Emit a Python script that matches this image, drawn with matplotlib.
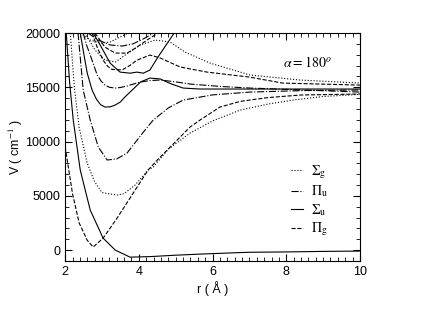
import matplotlib
matplotlib.use("Agg")
import matplotlib.pyplot as plt
from matplotlib.ticker import MultipleLocator

plt.rcParams['font.family'] = ['Liberation Sans', 'DejaVu Sans']
plt.rcParams['mathtext.fontset'] = 'stix'

# curvas: r (Angstrom), V (cm^-1)
r_su1 = [2.03, 2.12, 2.22, 2.41, 2.68, 3.03, 3.36, 3.76, 4.3, 5.0, 5.66, 6.5, 7.0, 8.0, 9.0, 10.0]
v_su1 = [20000, 15500, 11980, 7370, 3690, 1100, 0, -650, -600, -470, -370, -260, -200, -170, -120, -90]

r_pg1 = [2.0, 2.2, 2.38, 2.6, 2.76, 3.03, 3.4, 3.8, 4.25, 4.5, 5.0, 5.39, 5.66, 6.2, 6.75, 7.5, 8.4, 10.0]
v_pg1 = [9500, 5200, 2500, 900, 280, 1100, 2900, 5000, 7370, 8300, 10000, 11340, 11980, 13180, 13700, 14050, 14290, 14380]

r_sg1 = [2.14, 2.25, 2.38, 2.6, 2.8, 3.0, 3.41, 3.6, 3.9, 4.25, 4.39, 4.8, 5.39, 6.0, 6.75, 7.5, 8.18, 9.0, 10.0]
v_sg1 = [20000, 15000, 11300, 8000, 6300, 5300, 5070, 5200, 6000, 7370, 7650, 9300, 10780, 11900, 12900, 13450, 13820, 14150, 14350]

r_pu1 = [2.35, 2.49, 2.68, 2.9, 3.14, 3.4, 3.68, 4.1, 4.39, 4.8, 5.2, 6.0, 7.02, 8.5, 10.0]
v_pu1 = [20000, 14750, 11980, 9490, 8300, 8400, 8940, 10780, 11980, 13100, 13820, 14300, 14560, 14700, 14750]

r_su2 = [2.41, 2.5, 2.6, 2.73, 2.85, 2.96, 3.08, 3.22, 3.35, 3.5, 3.62, 3.82, 4.05, 4.3, 4.58, 4.85, 5.2, 5.66, 6.5, 8.0, 10.0]
v_su2 = [20000, 18200, 16300, 14750, 13900, 13400, 13180, 13200, 13350, 13650, 14100, 14750, 15500, 15850, 15770, 15350, 14930, 14840, 14840, 14840, 14840]

r_pg2 = [2.73, 2.88, 3.03, 3.15, 3.27, 3.55, 3.75, 3.95, 4.3, 4.58, 5.12, 5.85, 7.0, 7.9, 10.0]
v_pg2 = [20000, 18600, 17500, 16950, 16650, 16600, 17000, 17500, 17970, 17700, 16870, 16400, 15940, 15390, 15200]

r_su3 = [2.76, 2.95, 3.22, 3.49, 3.76, 3.95, 4.12, 4.3, 4.52, 4.74, 4.96]
v_su3 = [20000, 18900, 17230, 16400, 16300, 16400, 16300, 16590, 17790, 18900, 20000]

r_sg2 = [2.54, 2.81, 3.08, 3.36, 3.63, 4.03, 4.44, 4.85, 5.25, 5.93, 7.02, 8.37, 10.0]
v_sg2 = [20000, 18430, 17510, 17330, 17970, 18890, 19350, 19170, 18250, 17230, 16130, 15670, 15390]

r_pu2 = [2.49, 2.58, 2.68, 2.78, 2.87, 2.97, 3.08, 3.2, 3.36, 3.5, 3.68, 4.03, 4.3, 4.58, 5.0, 5.39, 6.2, 7.02, 10.0]
v_pu2 = [20000, 18900, 17970, 17000, 16130, 15600, 15210, 15000, 14930, 14980, 15120, 15480, 15620, 15670, 15500, 15300, 15080, 14930, 14560]

r_pg3 = [2.81, 3.08, 3.36, 3.68, 3.95, 4.22, 4.52]
v_pg3 = [20000, 18700, 18150, 18150, 18700, 19350, 20000]

r_pu3 = [2.62, 2.9, 3.22, 3.55, 3.84, 4.17, 4.39]
v_pu3 = [20000, 19350, 18900, 18800, 19000, 19540, 20000]

r_sg3 = [2.41, 2.68, 2.95, 3.22, 3.49, 3.71]
v_sg3 = [20000, 19350, 19080, 19170, 19630, 20000]

fig = plt.figure(figsize=(4.23, 3.27), dpi=100)
ax = fig.add_axes([0.154, 0.202, 0.697, 0.697])

lw = 0.8
ax.plot(r_sg1, v_sg1, color='black', lw=lw, ls=':', label=r'$\Sigma_\mathrm{g}$')
ax.plot(r_pu1, v_pu1, color='black', lw=lw, ls='-.', label=r'$\Pi_\mathrm{u}$')
ax.plot(r_su1, v_su1, color='black', lw=lw, ls='-', label=r'$\Sigma_\mathrm{u}$')
ax.plot(r_pg1, v_pg1, color='black', lw=lw, ls='--', label=r'$\Pi_\mathrm{g}$')

ax.plot(r_sg2, v_sg2, color='black', lw=lw, ls=':')
ax.plot(r_sg3, v_sg3, color='black', lw=lw, ls=':')
ax.plot(r_pu2, v_pu2, color='black', lw=lw, ls='-.')
ax.plot(r_pu3, v_pu3, color='black', lw=lw, ls='-.')
ax.plot(r_su2, v_su2, color='black', lw=lw, ls='-')
ax.plot(r_su3, v_su3, color='black', lw=lw, ls='-')
ax.plot(r_pg2, v_pg2, color='black', lw=lw, ls='--')
ax.plot(r_pg3, v_pg3, color='black', lw=lw, ls='--')

ax.set_xlim(2, 10)
ax.set_ylim(-1000, 20000)
ax.xaxis.set_major_locator(MultipleLocator(2))
ax.xaxis.set_minor_locator(MultipleLocator(0.2))
ax.yaxis.set_major_locator(MultipleLocator(5000))
ax.yaxis.set_minor_locator(MultipleLocator(1000))
ax.tick_params(which='both', direction='in', top=True, right=True, labelsize=9)
ax.tick_params(which='major', length=5, width=0.8)
ax.tick_params(which='minor', length=3, width=0.6)

ax.set_xlabel(u'r ( Å )', fontsize=9, labelpad=2)
ax.set_ylabel(r'V ( cm$^{-1}$ )', fontsize=9, labelpad=0)

ax.text(7.9, 16900, r'$\alpha = 180^o$', fontsize=10)

leg = ax.legend(loc='upper left', bbox_to_anchor=(0.765, 0.43), frameon=False,
                fontsize=10, handlelength=0.9, handletextpad=0.55, labelspacing=0.2,
                borderaxespad=0, borderpad=0)

fig.savefig('out.png', dpi=100)
